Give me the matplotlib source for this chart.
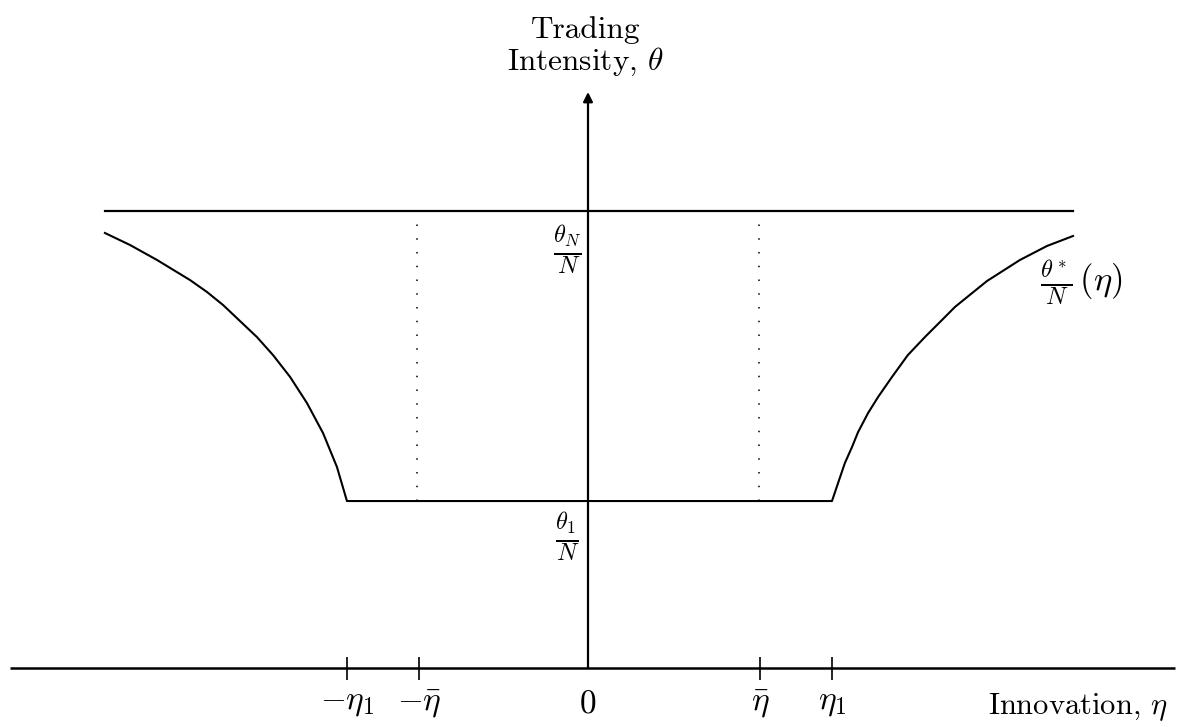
import numpy as np
import matplotlib
matplotlib.use("Agg")
import matplotlib.pyplot as plt

plt.rcParams['font.family'] = ['cmr10', 'DejaVu Serif']
plt.rcParams['mathtext.fontset'] = 'cm'
plt.rcParams['axes.unicode_minus'] = False

# ------------- dados -------------
# niveis de intensidade (theta_1/N = 1)
theta_1 = 1.0
theta_N = 2.737

# pontos de eta marcados no eixo
eta_1 = 1.0
eta_bar = 0.70
tick_pos = [-0.988, -0.693, 0.705, 1.0]
tick_labels_pos = [-0.988, -0.693, 0.0, 0.705, 1.0]
tick_labels = [r'$-\eta_1$', r'$-\bar{\eta}$', r'$0$', r'$\bar{\eta}$', r'$\eta_1$']

# curva theta*/N (eta) - ramo esquerdo
left_x = [-1.980, -1.877, -1.766, -1.631, -1.561, -1.496, -1.357, -1.291,
          -1.221, -1.152, -1.086, -1.029, -0.988]
left_y = [2.605, 2.533, 2.443, 2.323, 2.251, 2.174, 1.982, 1.874,
          1.743, 1.587, 1.407, 1.204, 1.000]

# curva theta*/N (eta) - ramo direito
right_x = [1.000, 1.025, 1.053, 1.082, 1.107, 1.148, 1.189, 1.246, 1.311,
           1.381, 1.451, 1.504, 1.635, 1.770, 1.881, 1.988]
right_y = [1.000, 1.108, 1.228, 1.323, 1.413, 1.527, 1.623, 1.743, 1.874,
           1.982, 2.084, 2.162, 2.317, 2.443, 2.527, 2.587]

# extensao das retas
top_x = [-1.980, 1.988]
axis_x = [-2.369, 2.406]
axis_top = 3.449
dot_top = 2.69

# ------------- figura -------------
fig = plt.figure(figsize=(11.86, 7.27), dpi=100)
ax = fig.add_axes([0, 0, 1, 1])
ax.set_xlim(-2.41, 2.451)
ax.set_ylim(-0.353, 4.0)
ax.axis('off')

preto = 'black'

# eixo horizontal
ax.plot(axis_x, [0, 0], color=preto, lw=1.8, solid_capstyle='butt')
# eixo vertical com seta
ax.annotate('', xy=(0, axis_top), xytext=(0, 0),
            arrowprops=dict(arrowstyle='-|>', color=preto, lw=1.6,
                            mutation_scale=14, shrinkA=0, shrinkB=0))

# reta theta_N / N
ax.plot(top_x, [theta_N, theta_N], color=preto, lw=1.6)

# curva theta*/N com trecho plano em theta_1/N
curva_x = left_x + right_x
curva_y = left_y + right_y
ax.plot(curva_x, curva_y, color=preto, lw=1.5, solid_joinstyle='round')

# linhas pontilhadas em -eta_bar e eta_bar
for xv in [-eta_bar, eta_bar]:
    ax.plot([xv, xv], [theta_1, dot_top], color=preto, lw=1.1,
            linestyle=(0, (1, 8)))

# marcas no eixo
ax.vlines(tick_pos, -0.072, 0.066, color=preto, lw=1.2)

# rotulos dos ticks
for xp, lab in zip(tick_labels_pos, tick_labels):
    ax.text(xp, -0.215, lab, fontsize=24, ha='center', va='center')

# rotulos dos eixos
ax.text(-0.01, 3.82, 'Trading', fontsize=22.5, ha='center', va='center')
ax.text(-0.01, 3.63, r'Intensity, $\theta$', fontsize=22.5, ha='center', va='center')
ax.text(2.377, -0.235, r'Innovation, $\eta$', fontsize=22, ha='right', va='center')

# rotulos das curvas
ax.text(-0.085, 2.503, r'$\frac{\theta_N}{N}$', fontsize=25, ha='center', va='center')
ax.text(-0.085, 0.784, r'$\frac{\theta_1}{N}$', fontsize=25, ha='center', va='center')
ax.text(1.852, 2.305, r'$\frac{\theta^*}{N}\,(\eta)$', fontsize=25, ha='left', va='center')

fig.savefig('out.png', dpi=100, facecolor='white')
